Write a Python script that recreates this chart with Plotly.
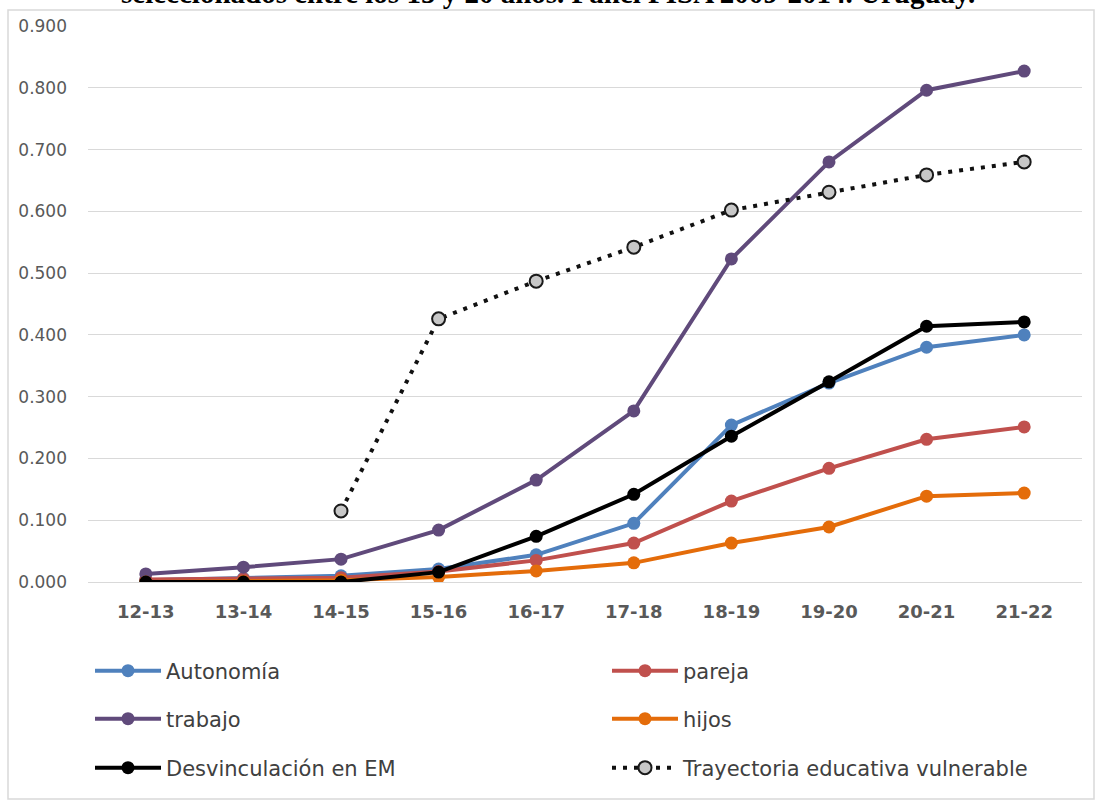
import plotly.graph_objects as go

# Age brackets (x categories)
edades = ["12-13", "13-14", "14-15", "15-16", "16-17", "17-18", "18-19", "19-20", "20-21", "21-22"]

# Cumulative proportions for each transition
autonomia = [0.003, 0.006, 0.010, 0.021, 0.044, 0.095, 0.254, 0.322, 0.380, 0.400]
pareja = [0.004, 0.005, 0.007, 0.017, 0.035, 0.063, 0.131, 0.184, 0.231, 0.251]
trabajo = [0.013, 0.024, 0.037, 0.084, 0.165, 0.277, 0.523, 0.680, 0.796, 0.827]
hijos = [0.000, 0.001, 0.003, 0.008, 0.018, 0.031, 0.063, 0.089, 0.139, 0.144]
desvinculacion = [0.000, 0.000, 0.000, 0.016, 0.074, 0.142, 0.236, 0.324, 0.414, 0.421]
trayectoria = [None, None, 0.115, 0.426, 0.487, 0.542, 0.602, 0.631, 0.659, 0.680]

y_ticks = [0.0, 0.1, 0.2, 0.3, 0.4, 0.5, 0.6, 0.7, 0.8, 0.9]

titulo = "seleccionados entre los 15 y 20 años. Panel PISA 2009-2014. Uruguay."

# plot area spans pixels x 88..1082, y 26..582
PL, PW, PT, PH = 88, 994, 26, 556


def px(p):
    return (p - PL) / PW


def py(p):
    return (PT + PH - p) / PH


fig = go.Figure()


def add_series(name, values, color, legend, dash="solid", marker_fill=None, marker_line=None):
    fig.add_trace(go.Scatter(
        x=edades, y=values, name=name, mode="lines+markers",
        line=dict(color=color, width=4, dash=dash),
        marker=dict(size=13, color=marker_fill or color,
                    line=dict(color=marker_line or color, width=2 if marker_line else 0)),
        legend=legend,
    ))


add_series("Autonomía", autonomia, "#4F81BD", "legend")
add_series("pareja", pareja, "#C0504D", "legend2")
add_series("trabajo", trabajo, "#604A7B", "legend3")
add_series("hijos", hijos, "#E46C0A", "legend4")
add_series("Desvinculación en EM", desvinculacion, "#000000", "legend5")
add_series("Trayectoria educativa vulnerable", trayectoria, "#111111", "legend6",
           dash="4px,7px", marker_fill="#C8C8C8", marker_line="#1A1A1A")

# one legend box per entry, laid out as a two-column grid below the plot
legend_font = dict(family="DejaVu Sans", size=21, color="#404040")
leg_common = dict(orientation="h", xanchor="left", yanchor="middle", font=legend_font,
                  bgcolor="rgba(0,0,0,0)", itemwidth=66)
col_x = [px(90), px(607)]
row_y = [py(671), py(719), py(768)]

legends = {}
for i in range(6):
    key = "legend" if i == 0 else "legend%d" % (i + 1)
    legends[key] = dict(**leg_common, x=col_x[i % 2], y=row_y[i // 2])

fig.update_layout(
    width=1096, height=800,
    margin=dict(l=PL, r=1096 - PL - PW, t=PT, b=800 - PT - PH),
    paper_bgcolor="white", plot_bgcolor="white",
    showlegend=True,
    **legends,
    xaxis=dict(
        type="category", showgrid=False, showline=False, zeroline=False,
        ticks="", tickfont=dict(family="DejaVu Sans", size=18, color="#595959", weight="bold"),
        ticklabelstandoff=17, automargin=False,
    ),
    yaxis=dict(
        range=[0, 0.9], tickvals=y_ticks, tickformat=".3f",
        showgrid=True, gridcolor="#D9D9D9", gridwidth=1,
        zeroline=True, zerolinecolor="#D9D9D9", zerolinewidth=1,
        showline=False, ticks="", automargin=False,
        tickfont=dict(family="DejaVu Sans", size=17, color="#595959"),
        ticklabelstandoff=20,
    ),
    shapes=[dict(type="rect", xref="paper", yref="paper",
                 x0=px(8), x1=px(1094), y0=py(799), y1=py(10),
                 line=dict(color="#D9D9D9", width=1.5), fillcolor="rgba(0,0,0,0)", layer="below")],
    annotations=[dict(text="<b>" + titulo + "</b>", xref="paper", yref="paper",
                      x=px(548), y=py(-7), xanchor="center", yanchor="middle",
                      showarrow=False,
                      font=dict(family="Liberation Serif", size=29, color="#000000"))],
)

fig.write_html("out.html")
